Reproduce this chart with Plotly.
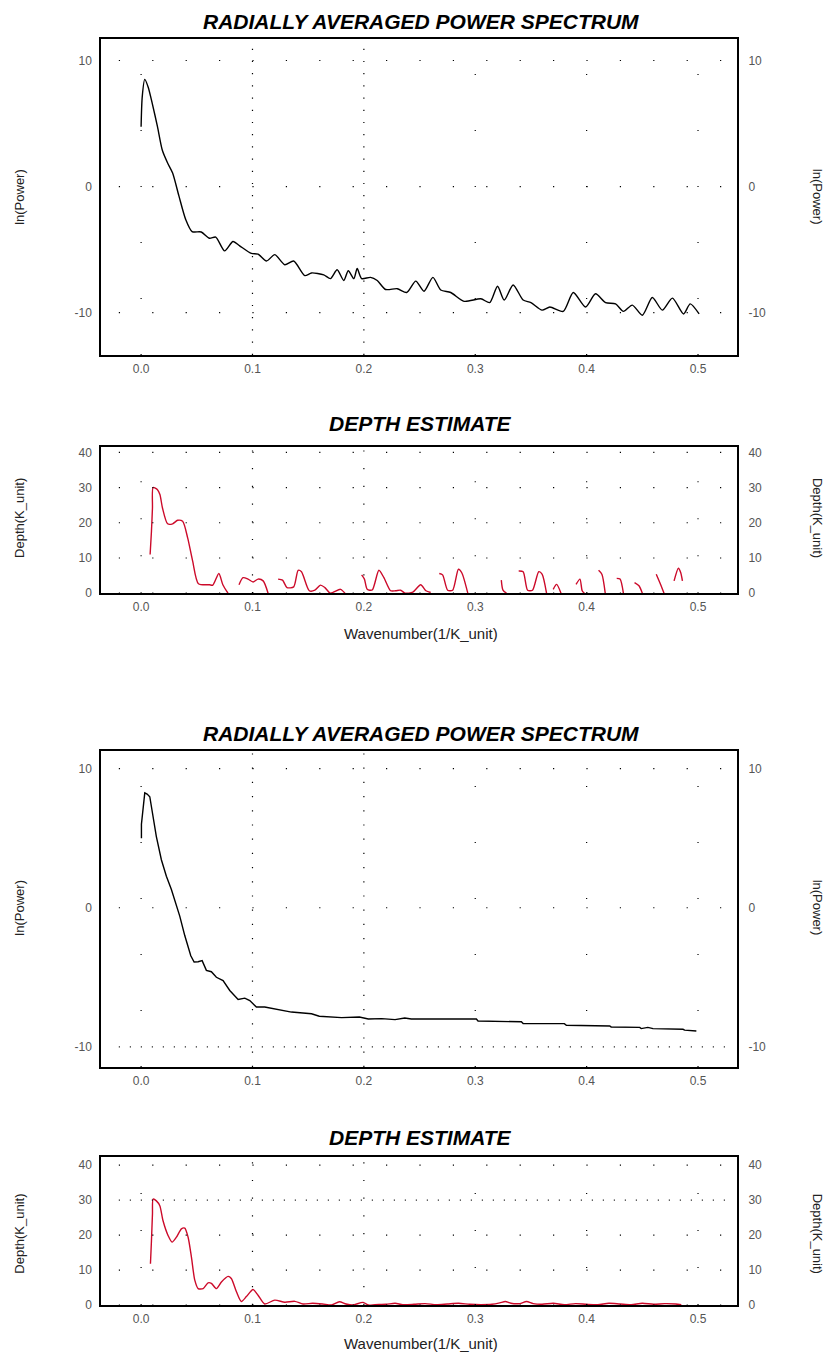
import plotly.graph_objects as go

# ---------------- data ----------------
# Panel 1: radially averaged power spectrum (first dataset)
p1_k = [0.000, 0.001, 0.0033, 0.0063, 0.010, 0.0147, 0.019, 0.0238, 0.0283, 0.034, 0.040,
        0.0458, 0.054, 0.0614, 0.067, 0.075, 0.0825, 0.0885, 0.099, 0.105, 0.1126, 0.120,
        0.129, 0.137, 0.147, 0.153, 0.164, 0.170, 0.176, 0.182, 0.186, 0.191, 0.194, 0.198,
        0.206, 0.212, 0.2195, 0.230, 0.2385, 0.2466, 0.254, 0.262, 0.269, 0.278, 0.290,
        0.305, 0.313, 0.320, 0.326, 0.334, 0.343, 0.350, 0.360, 0.367, 0.379, 0.388, 0.399,
        0.408, 0.417, 0.426, 0.433, 0.441, 0.450, 0.459, 0.468, 0.477, 0.487, 0.493, 0.501]
p1_lnp = [4.75, 7.1, 8.5, 7.9, 6.6, 4.75, 2.9, 1.87, 1.08, -0.76, -2.6,
          -3.57, -3.6, -4.1, -4.0, -5.1, -4.35, -4.7, -5.3, -5.35, -5.9, -5.4,
          -6.2, -5.9, -7.06, -6.85, -7.0, -7.3, -6.6, -7.45, -6.67, -7.3, -6.5, -7.3,
          -7.2, -7.45, -8.16, -8.1, -8.4, -7.5, -8.3, -7.2, -8.2, -8.4, -9.1,
          -8.9, -9.2, -7.9, -9.0, -7.8, -9.0, -9.2, -9.8, -9.55, -9.9, -8.4, -9.55,
          -8.5, -9.2, -9.3, -9.9, -9.4, -10.2, -8.8, -9.8, -8.85, -10.1, -9.3, -10.1]

# Panel 2: depth estimate (first dataset); None = no estimate (gap)
p2_k = [0.0081, 0.0093, 0.0102, 0.0108, 0.0147, 0.0169, 0.0192, 0.0238, 0.0283, 0.0328, 0.0373,
        0.0418, 0.0463, 0.0515, 0.0614, 0.0644, 0.0698, 0.0734, 0.078, 0.083,
        0.0879, 0.0915, 0.096, 0.1005, 0.105, 0.1096, 0.114, 0.118,
        0.123, 0.127, 0.131, 0.137, 0.141, 0.144, 0.151, 0.156, 0.161, 0.165, 0.170, 0.179, 0.183, 0.19,
        0.198, 0.2005, 0.203, 0.2075, 0.2135, 0.218, 0.224, 0.2285, 0.233, 0.237, 0.244, 0.251, 0.2557, 0.260, 0.264,
        0.2677, 0.2707, 0.2752, 0.2797, 0.2849, 0.2879, 0.2933, 0.31,
        0.3234, 0.3249, 0.328, 0.333,
        0.339, 0.343, 0.347, 0.3514, 0.357, 0.360, 0.364, 0.367,
        0.370, 0.373, 0.377, 0.383,
        0.3905, 0.394, 0.396, 0.398, 0.404,
        0.4107, 0.4137, 0.4167, 0.421,
        0.427, 0.430, 0.433, 0.438,
        0.443, 0.447, 0.450, 0.456,
        0.4625, 0.4664, 0.4695, 0.474,
        0.4785, 0.4824, 0.4845, 0.486]
p2_depth = [11.0, 17.6, 24.2, 30.0, 29.4, 28.0, 24.2, 19.7, 19.7, 20.7, 20.4,
            15.7, 9.1, 2.7, 2.4, 2.3, 5.6, 2.4, 0.0, None,
            2.4, 4.4, 4.0, 3.2, 4.0, 3.5, 0.0, None,
            4.0, 3.7, 1.6, 1.8, 6.5, 6.1, 0.7, 0.85, 2.3, 1.6, 0.0, 1.1, 0.0, None,
            5.2, 4.0, 1.1, 0.9, 6.5, 4.4, 0.7, 0.7, 0.85, 0.0, 0.3, 2.4, 0.7, 0.2, None,
            5.6, 5.2, 0.85, 0.85, 6.8, 5.8, 0.0, None,
            3.7, 0.85, 0.0, None,
            6.3, 6.1, 0.85, 0.85, 6.1, 5.4, 0.0, None,
            1.1, 2.5, 0.0, None,
            2.5, 4.0, 0.7, 0.0, None,
            6.5, 5.4, 0.0, None,
            4.2, 4.0, 0.0, None,
            3.0, 2.1, 0.0, None,
            5.4, 2.5, 0.0, None,
            3.5, 7.1, 5.8, 3.5]

# Panel 3: radially averaged power spectrum (second dataset)
p3_k = [0.0003, 0.0003, 0.0033, 0.0054, 0.0078, 0.0108, 0.0137, 0.0182, 0.0227, 0.0272, 0.0347,
        0.0392, 0.0446, 0.0476, 0.0512, 0.0548, 0.0586, 0.0631, 0.0676, 0.0736, 0.0796, 0.0871,
        0.0931, 0.0976, 0.1035, 0.111, 0.1215, 0.135, 0.153, 0.160, 0.180, 0.196, 0.204, 0.216,
        0.228, 0.2367, 0.2426, 0.301, 0.3025, 0.3414, 0.343, 0.380, 0.3818, 0.4207, 0.422,
        0.4477, 0.449, 0.455, 0.4596, 0.4865, 0.488, 0.4985]
p3_lnp = [5.0, 6.0, 8.26, 8.17, 7.98, 6.55, 5.12, 3.45, 2.26, 1.31, -0.6,
          -2.0, -3.45, -3.9, -3.88, -3.8, -4.5, -4.6, -5.0, -5.24, -5.95, -6.6,
          -6.5, -6.67, -7.14, -7.14, -7.3, -7.5, -7.62, -7.8, -7.9, -7.86, -8.0, -7.97,
          -8.04, -7.93, -8.0, -8.0, -8.14, -8.2, -8.33, -8.33, -8.45, -8.5, -8.57,
          -8.6, -8.69, -8.6, -8.69, -8.74, -8.8, -8.86]

# Panel 4: depth estimate (second dataset)
p4_k = [0.0084, 0.0093, 0.0102, 0.0108, 0.0137, 0.0168, 0.0197, 0.0242, 0.0278, 0.0317, 0.0362,
        0.0392, 0.0422, 0.0452, 0.0482, 0.0512, 0.0557, 0.0601, 0.0631, 0.0676, 0.0721, 0.0781,
        0.081, 0.0856, 0.090, 0.0945, 0.1005, 0.105, 0.111, 0.120, 0.129, 0.138, 0.1454, 0.154,
        0.163, 0.171, 0.178, 0.184, 0.190, 0.1993, 0.204,
        0.21, 0.22, 0.228, 0.235, 0.245, 0.255, 0.265, 0.275, 0.285, 0.295, 0.305, 0.315,
        0.322, 0.327, 0.332, 0.34, 0.346, 0.352, 0.36, 0.37, 0.38, 0.39, 0.40, 0.41, 0.42,
        0.43, 0.44, 0.45, 0.46, 0.47, 0.48, 0.485]
p4_depth = [11.8, 18.4, 26.0, 30.3, 29.8, 28.4, 24.1, 19.9, 18.0, 19.4, 21.8,
            22.0, 19.4, 13.7, 7.1, 4.7, 4.7, 6.35, 6.2, 4.7, 6.6, 8.2,
            7.6, 3.8, 1.0, 2.4, 4.45, 2.8, 0.3, 1.4, 0.8, 1.05, 0.3, 0.5,
            0.3, 0.0, 0.95, 0.3, 0.0, 0.75, 0.0,
            0.1, 0.2, 0.5, 0.1, 0.2, 0.4, 0.1, 0.3, 0.5, 0.2, 0.1, 0.2,
            0.6, 1.0, 0.5, 0.4, 1.0, 0.4, 0.2, 0.5, 0.1, 0.4, 0.2, 0.1, 0.5,
            0.3, 0.1, 0.5, 0.2, 0.4, 0.3, 0.1]

x_ticks = [0.0, 0.1, 0.2, 0.3, 0.4, 0.5]
x_tick_text = ["0.0", "0.1", "0.2", "0.3", "0.4", "0.5"]
lnp_ticks = [-10, 0, 10]
lnp_tick_text = ["-10", "0", "10"]
depth_ticks = [0, 10, 20, 30, 40]
depth_tick_text = ["0", "10", "20", "30", "40"]

title_spec = "RADIALLY AVERAGED POWER SPECTRUM"
title_depth = "DEPTH ESTIMATE"
label_x = "Wavenumber(1/K_unit)"
label_lnp = "ln(Power)"
label_depth = "Depth(K_unit)"

# ---------------- layout geometry ----------------
W, H = 827, 1363
X_DOM = [101 / W, 737 / W]
X_RANGE = [-0.036, 0.535]


def ydom(top_px, bot_px):
    return [1 - bot_px / H, 1 - top_px / H]


panels = [
    dict(k=p1_k, v=p1_lnp, color="black", shape="spline", dom=ydom(38.3, 356),
         rng=[-13.35, 11.7], ticks=lnp_ticks, tt=lnp_tick_text),
    dict(k=p2_k, v=p2_depth, color="#cc0a2a", shape="spline", dom=ydom(448.3, 595.7),
         rng=[0, 41.6], ticks=depth_ticks, tt=depth_tick_text),
    dict(k=p3_k, v=p3_lnp, color="black", shape="linear", dom=ydom(754, 1072.3),
         rng=[-11.45, 11.3], ticks=lnp_ticks, tt=lnp_tick_text),
    dict(k=p4_k, v=p4_depth, color="#cc0a2a", shape="spline", dom=ydom(1163, 1311.7),
         rng=[0, 42.3], ticks=depth_ticks, tt=depth_tick_text),
]

tick_font = dict(family="Liberation Sans, Arial, sans-serif", size=12, color="#555555")
fig = go.Figure()
layout = dict(width=W, height=H, margin=dict(l=0, r=0, t=0, b=0),
              paper_bgcolor="white", plot_bgcolor="white", showlegend=False)

shapes = []
for i, p in enumerate(panels):
    n = i + 1
    xa = "x" if n == 1 else f"x{n}"
    ya = "y" if n == 1 else f"y{n}"
    yr = f"y{n + 4}"
    line = dict(color=p["color"], width=1.4, shape=p["shape"])
    if p["shape"] == "spline":
        line["smoothing"] = 0.7
    fig.add_trace(go.Scatter(x=p["k"], y=p["v"], mode="lines", xaxis=xa, yaxis=ya,
                             line=line, connectgaps=False, hoverinfo="skip"))
    # invisible companion trace for the right-hand axis
    fig.add_trace(go.Scatter(x=p["k"], y=p["v"], mode="lines", xaxis=xa, yaxis=yr,
                             line=dict(color="rgba(0,0,0,0)", width=0), hoverinfo="skip"))
    layout[f"xaxis{'' if n == 1 else n}"] = dict(
        domain=X_DOM, range=X_RANGE, anchor=ya, tickvals=x_ticks, ticktext=x_tick_text,
        showgrid=False, zeroline=False, showline=True, mirror=True, linecolor="black",
        linewidth=1.5, ticks="outside", ticklen=2, tickcolor="rgba(0,0,0,0)",
        tickfont=tick_font)
    layout[f"yaxis{'' if n == 1 else n}"] = dict(
        domain=p["dom"], range=p["rng"], anchor=xa, tickvals=p["ticks"], ticktext=p["tt"],
        showgrid=False, zeroline=False, showline=True, mirror=True, linecolor="black",
        linewidth=1.5, ticks="outside", ticklen=5, tickcolor="rgba(0,0,0,0)",
        tickfont=tick_font)
    layout[f"yaxis{n + 4}"] = dict(
        overlaying=ya, side="right", anchor=xa, range=p["rng"], tickvals=p["ticks"],
        ticktext=p["tt"], showgrid=False, zeroline=False, showline=False, ticks="outside",
        ticklen=8, tickcolor="rgba(0,0,0,0)", tickfont=tick_font)

    # dotted grid decoration
    is_depth = p["ticks"] is depth_ticks
    for t in p["ticks"]:
        dense = (n == 3 and t == -10) or (n == 4 and t == 30)
        shapes.append(dict(type="line", xref=xa, yref=ya, x0=-0.02, x1=0.53, y0=t, y1=t,
                           line=dict(color="black", width=1.2,
                                     dash="1px,10px" if dense else "1.2px,32.2px")))
    for t in x_ticks:
        if t in (0.1, 0.2):
            if n == 1:
                d = "1.2px,11px"
            elif n == 3:
                d = "1.2px,13px"
            else:
                d = "1.2px,16.5px"
        else:
            d = "1px,55px" if not is_depth else "1px,36px"
        shapes.append(dict(type="line", xref=xa, yref=f"{ya} domain", x0=t, x1=t, y0=0, y1=1,
                           line=dict(color="black", width=1.2, dash=d)))

layout["shapes"] = shapes

title_font = dict(family="Liberation Sans, Arial, sans-serif", size=21, color="black")
lab_font = dict(family="Liberation Sans, Arial, sans-serif", size=13, color="#222222")
xlab_font = dict(family="Liberation Sans, Arial, sans-serif", size=15, color="#222222")


def py(px):
    return 1 - px / H


ann = []
for ty, txt in [(21, title_spec), (425, title_depth), (737, title_spec), (1143, title_depth)]:
    ann.append(dict(text=f"<b><i>{txt}</i></b>", x=421 / W, y=py(ty), xref="paper", yref="paper",
                    showarrow=False, font=title_font, xanchor="center", yanchor="middle"))
for ty in (636, 1350):
    ann.append(dict(text=label_x, x=421 / W, y=py(ty), xref="paper", yref="paper",
                    showarrow=False, font=xlab_font, xanchor="center", yanchor="middle"))
for ty, txt in [(197, label_lnp), (520, label_depth), (912, label_lnp), (1240, label_depth)]:
    ann.append(dict(text=txt, x=20 / W, y=py(ty), xref="paper", yref="paper", showarrow=False,
                    font=lab_font, textangle=-90, xanchor="center", yanchor="middle"))
    ann.append(dict(text=txt, x=817 / W, y=py(ty), xref="paper", yref="paper", showarrow=False,
                    font=lab_font, textangle=90, xanchor="center", yanchor="middle"))
layout["annotations"] = ann

fig.update_layout(**layout)
fig.write_html("out.html")
